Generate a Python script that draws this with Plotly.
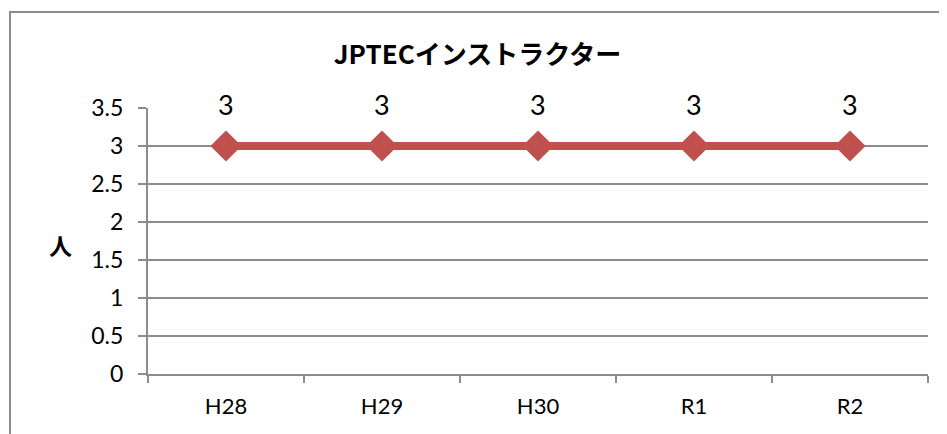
import plotly.graph_objects as go

categories = ["H28", "H29", "H30", "R1", "R2"]
values = [3, 3, 3, 3, 3]
y_ticks = [0, 0.5, 1, 1.5, 2, 2.5, 3, 3.5]
y_tick_labels = ["0", "0.5", "1", "1.5", "2", "2.5", "3", "3.5"]
title_text = "JPTECインストラクター"
y_title = "人"

RED = "#C0504D"
GRID = "#8C8C8C"

W, H = 939, 426
L, T, R, B = 140, 100, 19, 60
PW = W - L - R
PH = H - T - B

fig = go.Figure()
fig.add_trace(go.Scatter(
    x=categories, y=values, mode="lines+markers",
    line=dict(color=RED, width=8),
    marker=dict(symbol="diamond", size=24, color=RED),
    showlegend=False, hoverinfo="skip",
))

for c, v in zip(categories, values):
    fig.add_annotation(x=c, y=v, text=str(v), showarrow=False, yshift=42,
                       font=dict(family="Lato, Noto Sans CJK JP", size=27, color="#000000"))

fig.add_annotation(xref="paper", yref="paper", x=(52 - L) / PW, y=(366 - 237) / PH,
                   text="<b>" + y_title + "</b>", showarrow=False,
                   xanchor="center", yanchor="middle",
                   font=dict(family="Noto Sans CJK JP", size=23, color="#000000"))

fig.update_layout(
    width=W, height=H,
    margin=dict(l=L, r=R, t=T, b=B),
    paper_bgcolor="white", plot_bgcolor="white",
    title=dict(text="<b>" + title_text + "</b>", x=0.5, xref="container", xanchor="center",
               y=1 - 47 / H, yanchor="middle",
               font=dict(family="Noto Sans CJK JP", size=26, color="#000000")),
    xaxis=dict(type="category", range=[-0.5, 4.5], showgrid=False, showline=True,
               linecolor=GRID, linewidth=2, ticks="outside", tickson="boundaries",
               ticklen=7, tickwidth=2, tickcolor=GRID, ticklabelstandoff=12,
               tickfont=dict(family="Lato, Noto Sans CJK JP", size=22, color="#000000"),
               zeroline=False),
    yaxis=dict(range=[0, 3.5], tickvals=y_ticks, ticktext=y_tick_labels,
               showgrid=True, gridcolor=GRID, gridwidth=2, showline=True,
               linecolor=GRID, linewidth=2, ticks="outside", ticklen=8, tickwidth=2,
               tickcolor=GRID, zeroline=False, ticklabelstandoff=10,
               tickfont=dict(family="Lato, Noto Sans CJK JP", size=23, color="#000000")),
)

# chart area border
fig.add_shape(type="rect", xref="paper", yref="paper",
              x0=(2 - L) / PW, x1=1.2, y0=-0.4, y1=(366 - 4) / PH,
              line=dict(color="#8C8C8C", width=2), fillcolor="rgba(0,0,0,0)", layer="below")

fig.write_html("out.html")
